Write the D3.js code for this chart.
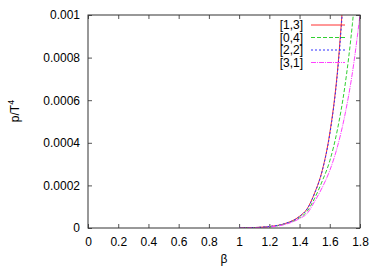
<!DOCTYPE html>
<html>
<head>
<meta charset="utf-8">
<script src="https://cdn.jsdelivr.net/npm/d3@7"></script>
<style>
    body { margin: 0; background: #fff; }
    svg text { font-family: "Liberation Sans", Arial, sans-serif; font-size: 12px; fill: #000; }
</style>
</head>
<body>
<div id="chart"></div>
<script>
// beta points and p/T^4 values
const betaShort = [1.0, 1.1, 1.2, 1.3, 1.4, 1.45, 1.5, 1.55, 1.6, 1.65, 1.7];
const betaLong = [1.0, 1.1, 1.2, 1.3, 1.4, 1.45, 1.5, 1.55, 1.6, 1.65, 1.7, 1.75, 1.8];

const p13 = [0, 0.000002, 0.000007, 0.00002, 0.000055, 0.00009, 0.000165, 0.00027, 0.000445, 0.00073, 0.0012];
const p04 = [0, 0.000002, 0.000006, 0.000018, 0.000048, 0.000078, 0.00014, 0.00022, 0.000315, 0.00046, 0.000665, 0.00096, 0.00137];
const p22 = [0, 0.000002, 0.000007, 0.00002, 0.000054, 0.000089, 0.000163, 0.000268, 0.00044, 0.00072, 0.00118];
const p31 = [0, 0.000002, 0.000005, 0.000016, 0.000044, 0.000068, 0.000125, 0.00019, 0.00027, 0.00038, 0.00053, 0.00073, 0.001];

const seriesNames = ['[1,3]', '[0,4]', '[2,2]', '[3,1]'];
const xTicks = [0, 0.2, 0.4, 0.6, 0.8, 1, 1.2, 1.4, 1.6, 1.8];
const yTicks = [0, 0.0002, 0.0004, 0.0006, 0.0008, 0.001];

const series = [
    { name: seriesNames[0], x: betaShort, y: p13, color: '#ff3030', dash: null },
    { name: seriesNames[1], x: betaLong, y: p04, color: '#30d030', dash: '4,2' },
    { name: seriesNames[2], x: betaShort, y: p22, color: '#3030ff', dash: '2,2' },
    { name: seriesNames[3], x: betaLong, y: p31, color: '#ff40ff', dash: '5,1,1,1' },
];

const W = 382, H = 267;
const margin = { left: 88, right: 22, top: 15, bottom: 39 };
const width = W - margin.left - margin.right;
const height = H - margin.top - margin.bottom;

const svg = d3.select('#chart').append('svg')
    .attr('width', W)
    .attr('height', H);

const g = svg.append('g')
    .attr('transform', `translate(${margin.left},${margin.top})`);

const x = d3.scaleLinear().domain([0, 1.8]).range([0, width]);
const y = d3.scaleLinear().domain([0, 0.001]).range([height, 0]);

g.append('clipPath').attr('id', 'clip')
    .append('rect').attr('width', width).attr('height', height);

// ticks inside, on all four sides
const fmtY = d => (d === 0 ? '0' : d3.format('')(+d.toFixed(4)));

g.append('g')
    .attr('transform', `translate(0,${height})`)
    .call(d3.axisBottom(x).tickValues(xTicks).tickSize(-4).tickPadding(9).tickFormat(d => String(+d.toFixed(1))))
    .call(a => a.select('.domain').remove());

g.append('g')
    .call(d3.axisLeft(y).tickValues(yTicks).tickSize(-4).tickPadding(8).tickFormat(fmtY))
    .call(a => a.select('.domain').remove());

g.append('g')
    .call(d3.axisTop(x).tickValues(xTicks).tickSize(-4).tickFormat(''))
    .call(a => a.select('.domain').remove());

g.append('g')
    .attr('transform', `translate(${width},0)`)
    .call(d3.axisRight(y).tickValues(yTicks).tickSize(-4).tickFormat(''))
    .call(a => a.select('.domain').remove());

g.selectAll('.tick line').attr('stroke', '#555');
g.selectAll('.tick text').style('font-family', '"Liberation Sans", Arial, sans-serif').style('font-size', '12px').attr('fill', '#000');

const line = d3.line()
    .x(d => x(d[0]))
    .y(d => y(d[1]))
    .curve(d3.curveMonotoneX);

const curves = g.append('g').attr('clip-path', 'url(#clip)');
series.forEach(s => {
    curves.append('path')
        .datum(s.x.map((b, i) => [b, s.y[i]]))
        .attr('d', line)
        .attr('fill', 'none')
        .attr('stroke', s.color)
        .attr('stroke-width', 1)
        .attr('stroke-dasharray', s.dash);
});

// frame
g.append('rect')
    .attr('width', width).attr('height', height)
    .attr('fill', 'none').attr('stroke', '#333').attr('stroke-width', 1);

// legend
const legend = g.append('g').attr('transform', 'translate(0,10)');
series.forEach((s, i) => {
    const ly = i * 12.5;
    legend.append('text')
        .attr('x', 215).attr('y', ly).attr('dy', '0.35em')
        .attr('text-anchor', 'end')
        .text(s.name);
    legend.append('line')
        .attr('x1', 223).attr('x2', 257)
        .attr('y1', ly).attr('y2', ly)
        .attr('stroke', s.color)
        .attr('stroke-width', 1)
        .attr('stroke-dasharray', s.dash);
});

// axis titles
svg.append('text')
    .attr('x', margin.left + width / 2).attr('y', 263)
    .attr('text-anchor', 'middle')
    .text('β');

const yl = svg.append('text')
    .attr('transform', 'translate(19,111) rotate(-90)')
    .attr('text-anchor', 'middle');
yl.append('tspan').text('p/T');
yl.append('tspan').attr('dy', '-5').style('font-size', '9px').text('4');
</script>
</body>
</html>
